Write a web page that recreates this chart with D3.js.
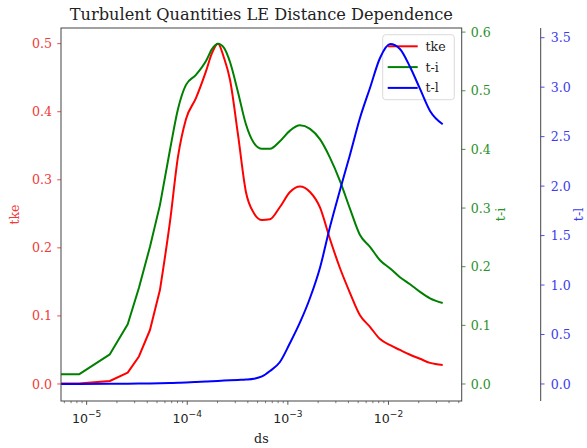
<!DOCTYPE html>
<html>
<head>
<meta charset="utf-8">
<script src="https://cdn.jsdelivr.net/npm/d3@7"></script>
<style>
  html, body { margin: 0; padding: 0; background: #fff; }
  svg { display: block; }
  text { font-family: "DejaVu Serif", serif; }
</style>
</head>
<body>
<svg id="chart" width="587" height="448"></svg>
<script>
// ---------------- data ----------------
const ds = [1e-7, 8.39e-6, 1.70e-5, 2.56e-5, 3.31e-5, 4.26e-5, 5.35e-5, 6.73e-5, 8.09e-5, 9.71e-5,
  1.22e-4, 1.54e-4, 1.76e-4, 2.02e-4, 2.32e-4, 2.66e-4, 3.19e-4, 3.83e-4, 4.60e-4, 5.53e-4,
  6.64e-4, 8.34e-4, 1.05e-3, 1.32e-3, 1.66e-3, 2.09e-3, 2.62e-3, 3.30e-3, 4.14e-3, 5.21e-3,
  6.55e-3, 8.24e-3, 1.04e-2, 1.30e-2, 1.64e-2, 2.06e-2, 2.59e-2, 3.46e-2];
const tke = [0.0007, 0.0007, 0.0044, 0.0166, 0.0404, 0.0793, 0.138, 0.238, 0.334, 0.389,
  0.420, 0.460, 0.486, 0.500, 0.479, 0.447, 0.367, 0.282, 0.251, 0.241,
  0.242, 0.260, 0.282, 0.290, 0.282, 0.259, 0.213, 0.170, 0.134, 0.101,
  0.084, 0.066, 0.057, 0.050, 0.043, 0.037, 0.031, 0.028];
const ti = [0.0165, 0.0165, 0.0506, 0.1018, 0.1641, 0.234, 0.305, 0.399, 0.469, 0.510,
  0.527, 0.551, 0.571, 0.580, 0.573, 0.549, 0.498, 0.443, 0.411, 0.401,
  0.401, 0.414, 0.432, 0.441, 0.435, 0.417, 0.386, 0.346, 0.299, 0.254,
  0.234, 0.211, 0.197, 0.182, 0.170, 0.157, 0.146, 0.138];
const tl = [0, 0, 0.002, 0.003, 0.004, 0.005, 0.007, 0.010, 0.013, 0.016,
  0.020, 0.025, 0.028, 0.031, 0.034, 0.037, 0.041, 0.045, 0.053, 0.076,
  0.131, 0.222, 0.414, 0.622, 0.869, 1.178, 1.587, 1.961, 2.315, 2.688,
  2.992, 3.295, 3.436, 3.386, 3.204, 2.982, 2.759, 2.625];

const xTicks = [1e-5, 1e-4, 1e-3, 1e-2];
const xExponents = ["\u22125", "\u22124", "\u22123", "\u22122"];
const tkeTicks = [0.0, 0.1, 0.2, 0.3, 0.4, 0.5];
const tiTicks = [0.0, 0.1, 0.2, 0.3, 0.4, 0.5, 0.6];
const tlTicks = [0.0, 0.5, 1.0, 1.5, 2.0, 2.5, 3.0, 3.5];
const seriesNames = ["tke", "t-i", "t-l"];

// ---------------- layout ----------------
const L = 61, R = 461.7, T = 28, B = 401, R2 = 540.7;
const cRed = "#ff0000", cGreen = "#008000", cBlue = "#0000ff";
const tRed = "#f03a3a", tGreen = "#2a912a", tBlue = "#3b3bef";
const spine = "#444";
const fs = 12.6;
const coarseEnd = 6; // coarse (visibly straight) segments at the small-ds end

const svg = d3.select("#chart");

const x = d3.scaleLog().domain([Math.pow(10, -5.255), Math.pow(10, -1.272)]).range([L, R]);
const yTke = d3.scaleLinear().domain([-0.025, 0.523]).range([B, T]);
const yTi = d3.scaleLinear().domain([-0.029, 0.607]).range([B, T]);
const yTl = d3.scaleLinear().domain([-0.172, 3.598]).range([B, T]);

svg.append("defs").append("clipPath").attr("id", "plotclip")
  .append("rect").attr("x", L).attr("y", T).attr("width", R - L).attr("height", B - T);

// title
svg.append("text").attr("x", (L + R) / 2).attr("y", 20).attr("text-anchor", "middle")
  .attr("font-size", 16.2).attr("fill", "#222").text("Turbulent Quantities LE Distance Dependence");

// x minor ticks
const minor = [];
for (let e = -6; e <= -1; e++) for (let m = 2; m <= 9; m++) {
  const v = m * Math.pow(10, e);
  if (v >= x.domain()[0] && v <= x.domain()[1]) minor.push(v);
}
svg.append("g").selectAll("line").data(minor).join("line")
  .attr("x1", d => x(d)).attr("x2", d => x(d)).attr("y1", B).attr("y2", B + 2.2)
  .attr("stroke", spine).attr("stroke-width", 0.7);
svg.append("g").selectAll("line").data(xTicks).join("line")
  .attr("x1", d => x(d)).attr("x2", d => x(d)).attr("y1", B).attr("y2", B + 3.8)
  .attr("stroke", spine).attr("stroke-width", 0.9);
const xl = svg.append("g").selectAll("text").data(xTicks).join("text")
  .attr("x", d => x(d)).attr("y", 422.5).attr("text-anchor", "middle")
  .attr("font-size", fs).attr("fill", "#222")
  .style("font-family", "'DejaVu Sans', sans-serif");
xl.append("tspan").text("10");
xl.append("tspan").attr("dy", -5.5).attr("font-size", fs * 0.72).text((d, i) => xExponents[i]);

svg.append("text").attr("x", (L + R) / 2).attr("y", 443).attr("text-anchor", "middle")
  .attr("font-size", fs).attr("fill", "#222").text("ds");

// left axis (tke)
svg.append("g").selectAll("line").data(tkeTicks).join("line")
  .attr("x1", L - 3.8).attr("x2", L).attr("y1", d => yTke(d)).attr("y2", d => yTke(d))
  .attr("stroke", tRed).attr("stroke-width", 0.9);
svg.append("g").selectAll("text").data(tkeTicks).join("text")
  .attr("x", L - 9).attr("y", d => yTke(d)).attr("dy", "0.36em").attr("text-anchor", "end")
  .attr("font-size", fs).attr("fill", tRed).text(d => d.toFixed(1));
svg.append("text").attr("transform", `translate(19,${(T + B) / 2}) rotate(-90)`)
  .attr("text-anchor", "middle").attr("font-size", fs).attr("fill", tRed).text(seriesNames[0]);

// right axis (t-i)
svg.append("g").selectAll("line").data(tiTicks).join("line")
  .attr("x1", R).attr("x2", R + 3.8).attr("y1", d => yTi(d)).attr("y2", d => yTi(d))
  .attr("stroke", tGreen).attr("stroke-width", 0.9);
svg.append("g").selectAll("text").data(tiTicks).join("text")
  .attr("x", R + 9).attr("y", d => yTi(d)).attr("dy", "0.36em").attr("text-anchor", "start")
  .attr("font-size", fs).attr("fill", tGreen).text(d => d.toFixed(1));
svg.append("text").attr("transform", `translate(505,${(T + B) / 2}) rotate(-90)`)
  .attr("text-anchor", "middle").attr("font-size", fs).attr("fill", tGreen).text(seriesNames[1]);

// third axis (t-l)
svg.append("line").attr("x1", R2).attr("x2", R2).attr("y1", T).attr("y2", B)
  .attr("stroke", spine).attr("stroke-width", 1);
svg.append("g").selectAll("line").data(tlTicks).join("line")
  .attr("x1", R2).attr("x2", R2 + 3.8).attr("y1", d => yTl(d)).attr("y2", d => yTl(d))
  .attr("stroke", tBlue).attr("stroke-width", 0.9);
svg.append("g").selectAll("text").data(tlTicks).join("text")
  .attr("x", R2 + 10).attr("y", d => yTl(d)).attr("dy", "0.36em").attr("text-anchor", "start")
  .attr("font-size", fs).attr("fill", tBlue).text(d => d.toFixed(1));
svg.append("text").attr("transform", `translate(583,${(T + B) / 2}) rotate(-90)`)
  .attr("text-anchor", "middle").attr("font-size", fs).attr("fill", tBlue).text(seriesNames[2]);

// lines: straight segments where the source grid is coarse, smooth elsewhere
function drawSeries(g, vals, yScale, color) {
  const pts = ds.map((d, i) => [d, vals[i]]);
  const lin = d3.line().x(d => x(d[0])).y(d => yScale(d[1]));
  const smooth = d3.line().x(d => x(d[0])).y(d => yScale(d[1])).curve(d3.curveMonotoneX);
  const path = lin(pts.slice(0, coarseEnd + 1)) + smooth(pts.slice(coarseEnd)).replace(/^M[^A-Za-z]*/, "");
  g.append("path").attr("d", path)
    .attr("fill", "none").attr("stroke", color).attr("stroke-width", 2)
    .attr("stroke-linejoin", "round");
}

const plot = svg.append("g").attr("clip-path", "url(#plotclip)");
drawSeries(plot, tke, yTke, cRed);

// legend (belongs to first axes, so later lines are drawn above it)
const lg = svg.append("g");
lg.append("rect").attr("x", 382.7).attr("y", 34.7).attr("width", 71.6).attr("height", 65)
  .attr("rx", 3).attr("fill", "#fff").attr("fill-opacity", 0.8).attr("stroke", "#d0d0d0").attr("stroke-width", 0.8);
const legColors = [cRed, cGreen, cBlue];
seriesNames.forEach((n, i) => {
  const yy = 46.3 + i * 20.8;
  lg.append("line").attr("x1", 387.7).attr("x2", 417.7).attr("y1", yy).attr("y2", yy)
    .attr("stroke", legColors[i]).attr("stroke-width", 2);
  lg.append("text").attr("x", 425.5).attr("y", yy).attr("dy", "0.36em")
    .attr("font-size", fs).attr("fill", "#222").text(n);
});

const plot2 = svg.append("g").attr("clip-path", "url(#plotclip)");
drawSeries(plot2, ti, yTi, cGreen);
drawSeries(plot2, tl, yTl, cBlue);

// frame
svg.append("rect").attr("x", L).attr("y", T).attr("width", R - L).attr("height", B - T)
  .attr("fill", "none").attr("stroke", spine).attr("stroke-width", 1);
</script>
</body>
</html>
